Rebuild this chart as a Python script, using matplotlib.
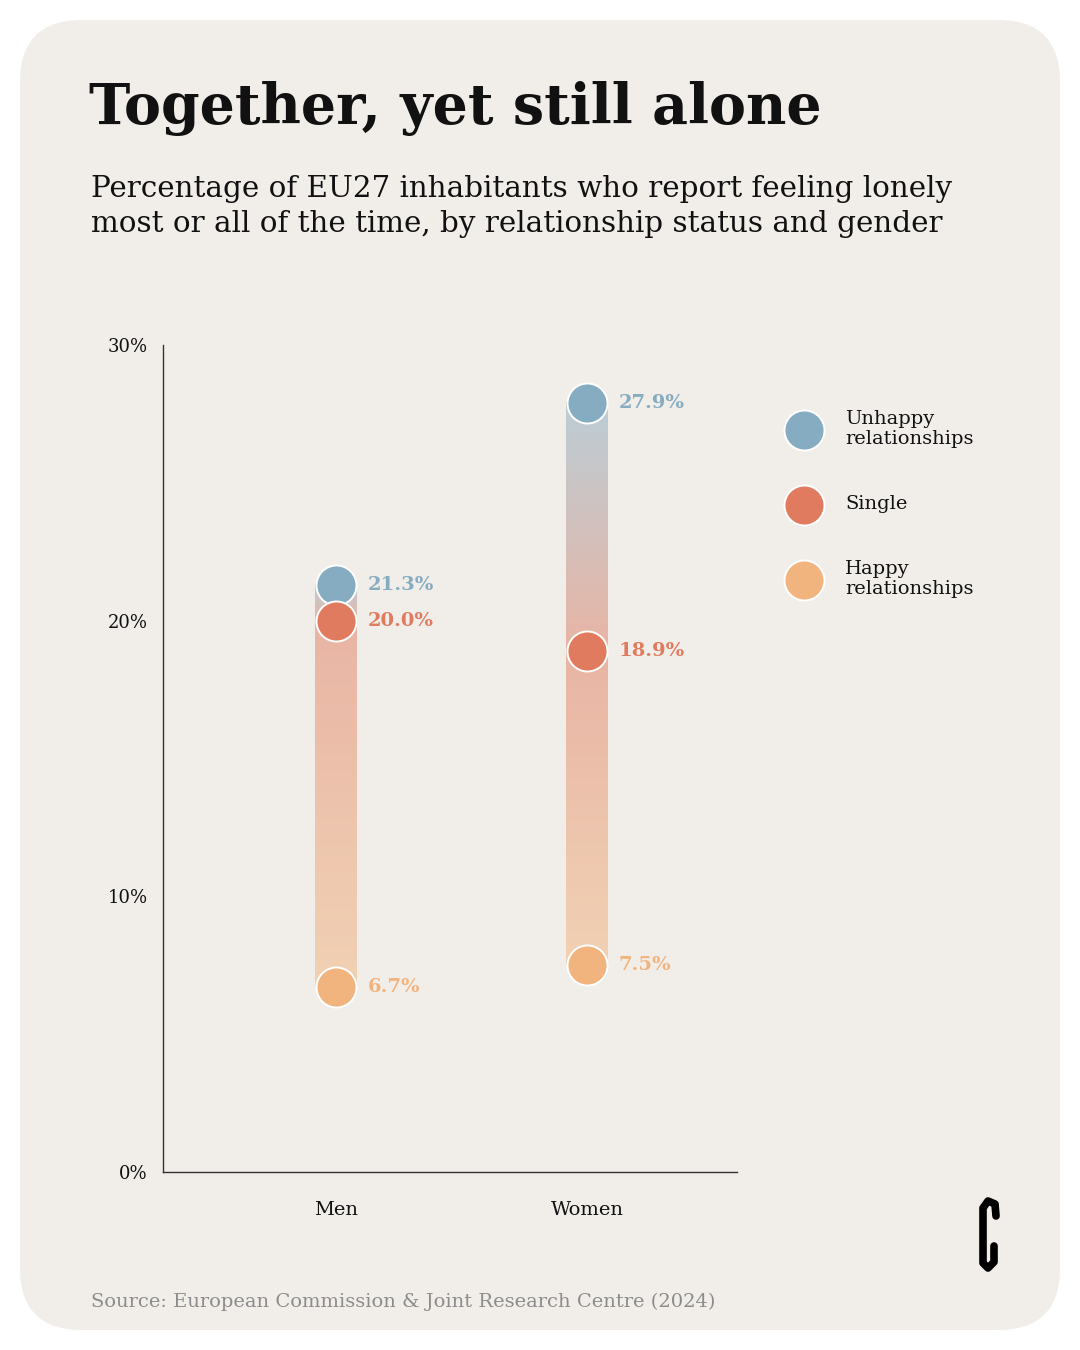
import numpy as np
import matplotlib.pyplot as plt
from matplotlib.patches import FancyBboxPatch
from matplotlib.colors import to_rgb

# data
groups = ['Men', 'Women']
unhappy = [21.3, 27.9]
single = [20.0, 18.9]
happy = [6.7, 7.5]
series_names = ['Unhappy\nrelationships', 'Single', 'Happy\nrelationships']
yticks = [0, 10, 20, 30]
ytick_labels = ['0%', '10%', '20%', '30%']

c_unhappy = '#86ACC1'
c_single = '#E07B5F'
c_happy = '#F1B47E'
bg = '#F1EEEA'
serif = ['DejaVu Serif']

W, H = 1080, 1350
fig = plt.figure(figsize=(W / 100, H / 100), dpi=100)
fig.patch.set_facecolor('white')

# background card in pixel coords
bgax = fig.add_axes([0, 0, 1, 1])
bgax.set_xlim(0, W)
bgax.set_ylim(H, 0)
bgax.axis('off')
card = FancyBboxPatch((20, 20), 1040, 1310, boxstyle='round,pad=0,rounding_size=62',
                      fc=bg, ec='none')
bgax.add_patch(card)

bgax.text(89, 124, 'Together, yet still alone', fontsize=40, fontweight='bold',
          family=serif, va='baseline', ha='left', color='#111111')
bgax.text(91, 197, 'Percentage of EU27 inhabitants who report feeling lonely',
          fontsize=21.2, family=serif, va='baseline', color='#111111')
bgax.text(91, 232, 'most or all of the time, by relationship status and gender',
          fontsize=21.2, family=serif, va='baseline', color='#111111')
bgax.text(91, 1307, 'Source: European Commission & Joint Research Centre (2024)',
          fontsize=14, family=serif, va='baseline', color='#8C8C8C')

# legend
for yy, name, c in zip([430, 505, 580], series_names, [c_unhappy, c_single, c_happy]):
    bgax.scatter([804], [yy], s=830, color=c, edgecolor='white', linewidth=1.4, zorder=3)
    bgax.text(845, yy - 1, name, fontsize=14, family=serif, va='center', ha='left',
              linespacing=1.15, color='#111111')

# logo
lx = [996, 995, 988, 983, 983, 988, 994, 994]
ly = [1216, 1204, 1201, 1208, 1263, 1268, 1262, 1246]
bgax.plot(lx, ly, color='black', lw=5.5, solid_capstyle='round', solid_joinstyle='round')

# chart
ax = fig.add_axes([163 / W, 178 / H, 574 / W, 827 / H])
ax.set_facecolor('none')
for s in ['top', 'right']:
    ax.spines[s].set_visible(False)
for s in ['left', 'bottom']:
    ax.spines[s].set_color('#333333')
    ax.spines[s].set_linewidth(1)
ax.tick_params(length=0)
ax.set_yticks(yticks)
ax.set_yticklabels(ytick_labels, family=serif, fontsize=13, color='#111111')
ax.tick_params(axis='y', pad=11)
ax.set_xticks(range(len(groups)))
ax.set_xticklabels(groups, family=serif, fontsize=14, color='#111111')
ax.tick_params(axis='x', pad=21)

bg_rgb = np.array(to_rgb(bg))
alpha = 0.5
bw = 0.167
for i in range(len(groups)):
    stops_v = [happy[i], single[i], unhappy[i]]
    stops_c = [np.array(to_rgb(c)) for c in (c_happy, c_single, c_unhappy)]
    vals = np.linspace(happy[i], unhappy[i], 300)
    grad = np.stack([np.interp(vals, stops_v, [sc[k] for sc in stops_c]) for k in range(3)], axis=1)
    grad = alpha * grad + (1 - alpha) * bg_rgb
    ax.imshow(grad[:, None, :], extent=[i - bw / 2, i + bw / 2, happy[i], unhappy[i]],
              origin='lower', aspect='auto', interpolation='bilinear', zorder=1)
    for v, c in zip([unhappy[i], single[i], happy[i]], [c_unhappy, c_single, c_happy]):
        ax.scatter([i], [v], s=830, color=c, edgecolor='white', linewidth=1.4, zorder=3)
        ax.annotate(f'{v:.1f}%', (i, v), xytext=(23, 0), textcoords='offset points',
                    fontsize=14, fontweight='bold', family=serif, color=c,
                    va='center', ha='left')
ax.set_xlim(-0.689, 1.598)
ax.set_ylim(0, 30)

fig.savefig('out.png', dpi=100, facecolor='white')
